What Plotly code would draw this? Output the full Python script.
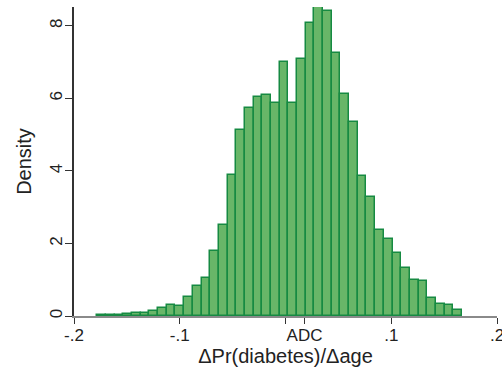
import plotly.graph_objects as go

# Histogram of ΔPr(diabetes)/Δage (density scale), 42 bins
bin_start = -0.17795
bin_width = 0.008211
density = [0.036, 0.014, 0.028, 0.047, 0.075, 0.075, 0.138, 0.21, 0.295, 0.276,
           0.533, 0.82, 1.06, 1.78, 2.50, 3.88, 5.12, 5.73, 6.05, 6.08,
           5.87, 7.01, 5.88, 7.08, 8.09, 8.52, 8.40, 7.24, 6.13, 5.35,
           3.87, 3.29, 2.38, 2.13, 1.73, 1.31, 0.99, 0.97, 0.49, 0.32,
           0.30, 0.17]
bin_centers = [bin_start + bin_width * (i + 0.5) for i in range(len(density))]

adc_value = 0.018
x_tickvals = [-0.2, -0.1, 0.0, adc_value, 0.1, 0.2]
x_ticktext = ["-.2", "-.1", "", "ADC", ".1", ".2"]
y_tickvals = [0, 2, 4, 6, 8]
y_ticktext = ["0", "2", "4", "6", "8"]

fig = go.Figure()
fig.add_trace(go.Bar(
    x=bin_centers, y=density, width=[bin_width] * len(density),
    marker=dict(color="#68b668", line=dict(color="#168a42", width=1.5)),
    hoverinfo="x+y",
))

fig.update_layout(
    width=502, height=374,
    margin=dict(l=74, r=5, t=7, b=58),
    paper_bgcolor="white", plot_bgcolor="white",
    font=dict(family="Liberation Sans, Arial, sans-serif", size=17, color="#222222"),
    bargap=0, showlegend=False,
)
fig.update_xaxes(
    range=[-0.2, 0.2], tickvals=x_tickvals, ticktext=x_ticktext,
    showgrid=False, zeroline=False, showline=True, linecolor="#8a8a8a", linewidth=1.5,
    ticks="outside", ticklen=6, tickcolor="#333333", tickwidth=1.2,
    tickfont=dict(size=17), automargin=False, ticklabeloverflow="allow",
    ticklabelstandoff=-3,
    title=dict(text="ΔPr(diabetes)/Δage", font=dict(size=20), standoff=4),
)
fig.update_yaxes(
    range=[0, max(density)], tickvals=y_tickvals, ticktext=y_ticktext,
    showgrid=False, zeroline=False, showline=True, linecolor="#333333", linewidth=1.5,
    ticks="outside", ticklen=7, tickcolor="#333333", tickwidth=1.2,
    tickangle=-90, tickfont=dict(size=17), automargin=False,
    ticklabelstandoff=-4,
    title=dict(text="Density", font=dict(size=20), standoff=10),
)

fig.write_html("out.html")
